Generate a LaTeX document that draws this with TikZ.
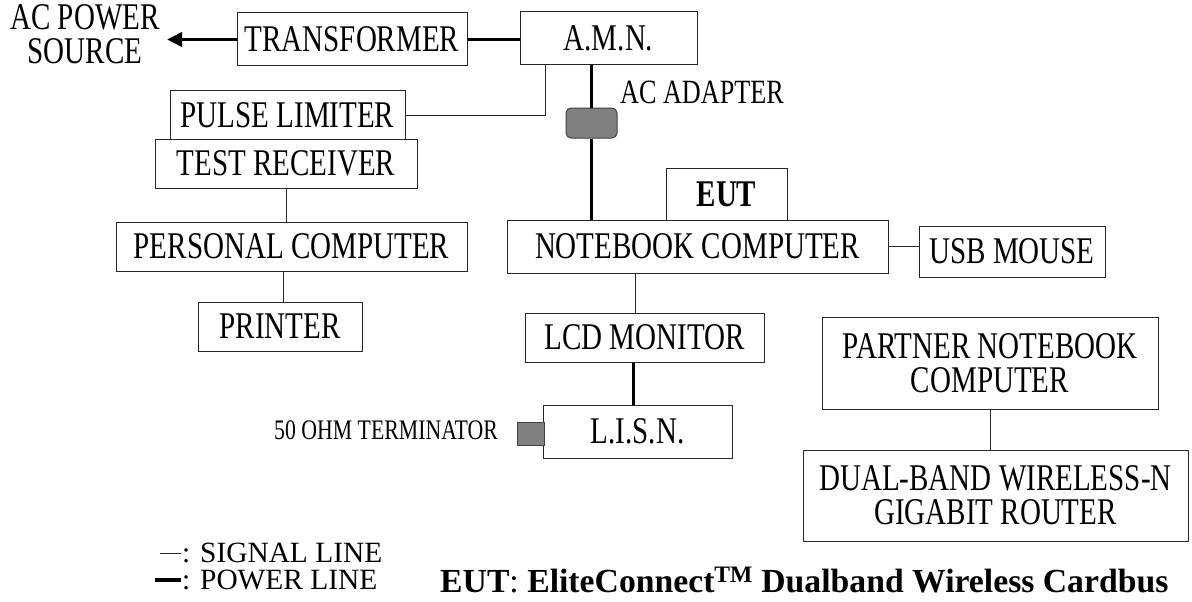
\documentclass[tikz,border=0pt]{standalone}
\usepackage{fontspec}
\setmainfont{Liberation Serif}[FakeStretch=0.77]
\newfontfamily\plainfont{Liberation Serif}
\usetikzlibrary{arrows.meta}
\begin{document}
\begin{tikzpicture}[x=1pt,y=-1pt]
			\tikzstyle{block}=[draw=black!85,line width=1pt,inner sep=0pt,align=center,font=\fontsize{37.7}{34}\selectfont]
			\tikzstyle{note}=[inner sep=0pt,align=center,font=\fontsize{37.7}{34}\selectfont]
			\tikzstyle{plug}=[draw=black!75,fill=black!50,line width=1pt,inner sep=0pt]
			\tikzstyle{sigline}=[line width=1pt,black!85]
			\tikzstyle{pwrline}=[line width=3.5pt]
			
			\useasboundingbox (0,0) rectangle (1192,602);
			
			\node[note] (SRC) at (85,34) {AC POWER\\SOURCE};
			\coordinate (SRCTIP) at (167,39.5);
			\node[block,minimum width=230pt,minimum height=53pt] (TRF) at (352,39.5) {TRANSFORMER};
			\node[block,minimum width=177pt,minimum height=53pt] (AMN) at (608.5,38.5) {A.M.N.};
			\node[block,minimum width=235pt,minimum height=48pt] (PLS) at (287.5,115) {PULSE LIMITER};
			\node[block,minimum width=262pt,minimum height=49pt] (TRC) at (286,163.5) {TEST RECEIVER};
			\node[block,minimum width=351pt,minimum height=49pt] (PC) at (291.5,246.5) {PERSONAL COMPUTER};
			\node[block,minimum width=164pt,minimum height=49pt] (PRN) at (280,326.5) {PRINTER};
			
			\node[plug,rounded corners=5pt,minimum width=51pt,minimum height=30pt] (ADP) at (591.5,123) {};
			\node[note,anchor=west,font=\fontsize{34}{30}\selectfont] (ADPTXT) at (620,92) {AC ADAPTER};
			\node[block,minimum width=121pt,minimum height=52pt,font=\fontsize{37.7}{33}\selectfont\bfseries] (EUT) at (726.5,194) {EUT};
			\node[block,minimum width=381pt,minimum height=53pt] (NB) at (697.5,246.5) {NOTEBOOK COMPUTER};
			\node[block,minimum width=186pt,minimum height=51pt] (USB) at (1012,251.5) {USB MOUSE};
			\node[block,minimum width=239pt,minimum height=49pt] (LCD) at (644.5,337.5) {LCD MONITOR};
			\node[block,minimum width=189pt,minimum height=53pt] (LISN) at (637.5,431.5) {L.I.S.N.};
			\node[plug,minimum width=27pt,minimum height=23pt] (TRM) at (530.5,433.5) {};
			\node[note,anchor=east,font=\fontsize{28.3}{25}\selectfont] (TRMTXT) at (498,430) {50 OHM TERMINATOR};
			
			\node[block,minimum width=336pt,minimum height=92pt] (PNB) at (990,363) {PARTNER NOTEBOOK\\COMPUTER};
			\node[block,minimum width=385pt,minimum height=91pt] (RTR) at (995.5,495.5) {DUAL-BAND WIRELESS-N\\GIGABIT ROUTER};
			
			% power lines
			\draw[pwrline,-{Triangle[length=15pt,width=14pt]}] (TRF.west) -- (SRCTIP);
			\draw[pwrline] (TRF.east) -- (TRF.east -| AMN.west);
			\draw[pwrline] (ADP |- AMN.south) -- (ADP.north);
			\draw[pwrline] (ADP.south) -- (ADP |- NB.north);
			\draw[pwrline] ([xshift=-4pt]LISN.north) -- ([xshift=-4pt]LISN.north |- LCD.south);
			
			% signal lines
			\draw[sigline] ([xshift=-63.5pt]AMN.south) |- (PLS.east);
			\draw[sigline] (TRC.south) -- (TRC.south |- PC.north);
			\draw[sigline] ([xshift=3pt]PRN.north) -- ([xshift=3pt]PRN.north |- PC.south);
			\draw[sigline] (NB.east) -- (NB.east -| USB.west);
			\draw[sigline] ([xshift=-9pt]LCD.north) -- ([xshift=-9pt]LCD.north |- NB.south);
			\draw[sigline] (PNB.south) -- (PNB.south |- RTR.north);
			
			% legend
			\draw[sigline] (160,553) -- (181,553);
			\draw[pwrline] (155,580) -- (181,580);
			\node[note,anchor=west,font=\plainfont\fontsize{29.4}{28}\selectfont] (SIGTXT) at (182,553) {: SIGNAL LINE};
			\node[note,anchor=west,font=\plainfont\fontsize{29.4}{28}\selectfont] (PWRTXT) at (182,580) {: POWER LINE};
			\node[note,anchor=base west,font=\plainfont\fontsize{33.7}{38}\selectfont] (EUTTXT) at (440,592) {\textbf{EUT}: \textbf{EliteConnect\textsuperscript{TM} Dualband Wireless Cardbus}};
			
			
			\end{tikzpicture}
\end{document}
